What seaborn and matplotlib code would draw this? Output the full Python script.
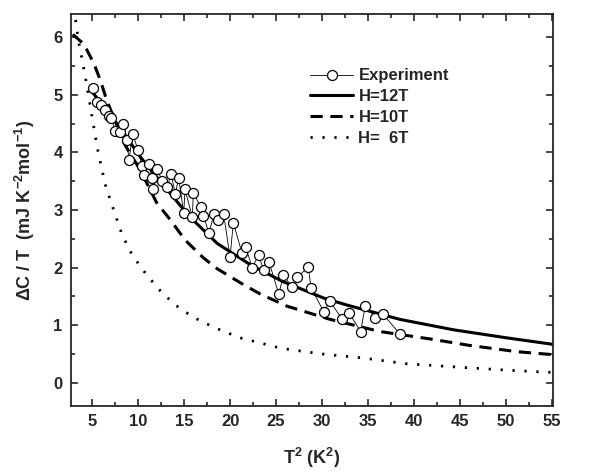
import numpy as np
import pandas as pd
import matplotlib.pyplot as plt
import seaborn as sns
from matplotlib.ticker import MultipleLocator

sns.set_style("ticks")
plt.rcParams['font.family'] = ['Liberation Sans', 'DejaVu Sans']
plt.rcParams['mathtext.default'] = 'regular'

# experiment points (T^2, dC/T)
exp_x = [5.1, 5.55, 5.95, 6.35, 6.8, 7.05, 7.53, 8.05, 8.4, 8.8, 9.0, 9.4, 10.0, 10.4,
         10.6, 11.2, 11.5, 11.65, 12.1, 12.6, 13.15, 13.6, 14.05, 14.4, 14.96, 15.1,
         15.9, 16.0, 16.8, 17.1, 17.7, 18.25, 18.7, 19.3, 20.0, 20.35, 21.3, 21.7,
         22.4, 23.1, 23.65, 24.25, 25.3, 25.8, 26.7, 27.3, 28.5, 28.8, 30.2, 30.85,
         32.2, 32.9, 34.2, 34.7, 35.8, 36.6, 38.5]
exp_y = [5.12, 4.87, 4.82, 4.73, 4.63, 4.6, 4.38, 4.35, 4.5, 4.21, 3.86, 4.32, 4.04, 3.77,
         3.6, 3.8, 3.56, 3.37, 3.72, 3.5, 3.4, 3.62, 3.27, 3.56, 2.95, 3.36,
         2.87, 3.29, 3.06, 2.9, 2.6, 2.93, 2.82, 2.93, 2.18, 2.78, 2.25, 2.36,
         2.0, 2.22, 1.95, 2.09, 1.54, 1.87, 1.67, 1.83, 2.01, 1.65, 1.23, 1.42,
         1.1, 1.22, 0.89, 1.34, 1.13, 1.2, 0.84]

# model curves
h12_x = [5.0, 7.0, 8.8, 10.25, 12.4, 15.5, 18.6, 22.2, 25.7, 30.2, 32.7, 38.5, 44.3, 50.1, 55.0]
h12_y = [5.05, 4.65, 4.25, 3.92, 3.5, 2.9, 2.42, 2.05, 1.76, 1.47, 1.35, 1.1, 0.92, 0.78, 0.67]

h10_x = [2.9, 4.1, 5.2, 5.9, 6.6, 8.6, 10.25, 12.0, 13.5, 15.1, 17.1, 18.6, 21.5, 23.3,
         26.2, 30.9, 36.3, 41.8, 46.0, 51.2, 55.0]
h10_y = [6.05, 5.88, 5.54, 5.25, 4.9, 4.12, 3.69, 3.13, 2.83, 2.48, 2.17, 1.98, 1.7, 1.54,
         1.33, 1.1, 0.89, 0.76, 0.65, 0.54, 0.49]

h6_x = [3.2, 3.5, 3.9, 4.27, 4.63, 5.0, 5.36, 5.72, 6.45, 7.17, 8.26, 9.35, 10.8, 12.6,
        14.6, 16.8, 18.9, 21.1, 23.1, 25.5, 30.0, 34.5, 39.2, 45.0, 50.0, 55.0]
h6_y = [6.3, 5.95, 5.62, 5.3, 4.96, 4.61, 4.27, 3.95, 3.43, 3.08, 2.57, 2.22, 1.9, 1.56,
        1.28, 1.07, 0.92, 0.78, 0.7, 0.6, 0.5, 0.43, 0.33, 0.27, 0.22, 0.18]

df_exp = pd.DataFrame({'x': exp_x, 'y': exp_y})

fig = plt.figure(figsize=(5.99, 4.73), dpi=100)
ax = fig.add_axes([0.1185, 0.142, 0.8045, 0.828])

sns.lineplot(x=h12_x, y=h12_y, ax=ax, color='black', lw=2.2, label='H=12T')
sns.lineplot(x=h10_x, y=h10_y, ax=ax, color='black', lw=2.2, ls=(0, (4, 2.5)), label='H=10T')
sns.lineplot(x=h6_x, y=h6_y, ax=ax, color='black', lw=2.0, ls=(0, (0.8, 3.5)), label='H=  6T')
sns.lineplot(data=df_exp, x='x', y='y', ax=ax, color='black', lw=0.6, marker='o', ms=7.2,
             markerfacecolor='white', markeredgecolor='black', markeredgewidth=0.9,
             label='Experiment')

ax.set_xlim(2.7, 55.1)
ax.set_ylim(-0.4, 6.4)
ax.xaxis.set_major_locator(MultipleLocator(5))
ax.xaxis.set_minor_locator(MultipleLocator(2.5))
ax.yaxis.set_major_locator(MultipleLocator(1))
ax.yaxis.set_minor_locator(MultipleLocator(0.5))
ax.tick_params(which='both', direction='in', top=True, right=True, width=1.2)
ax.tick_params(which='major', length=5, labelsize=12, pad=6)
ax.tick_params(which='minor', length=3)
for lab in ax.get_xticklabels() + ax.get_yticklabels():
    lab.set_fontweight('bold')
for s in ax.spines.values():
    s.set_linewidth(1.3)
    s.set_visible(True)

ax.set_xlabel('T$^2$ (K$^2$)', fontsize=13, fontweight='bold', labelpad=12)
ax.set_ylabel('ΔC / T  (mJ K$^{-2}$mol$^{-1}$)', fontsize=13, fontweight='bold', labelpad=12)

h, l = ax.get_legend_handles_labels()
order = [3, 0, 1, 2]
ax.legend([h[i] for i in order], [l[i] for i in order], loc='upper left',
          bbox_to_anchor=(0.465, 0.9), frameon=False,
          handlelength=2.6, handletextpad=0.3, labelspacing=0.35,
          prop={'weight': 'bold', 'size': 12})

fig.savefig('out.png', dpi=100)
